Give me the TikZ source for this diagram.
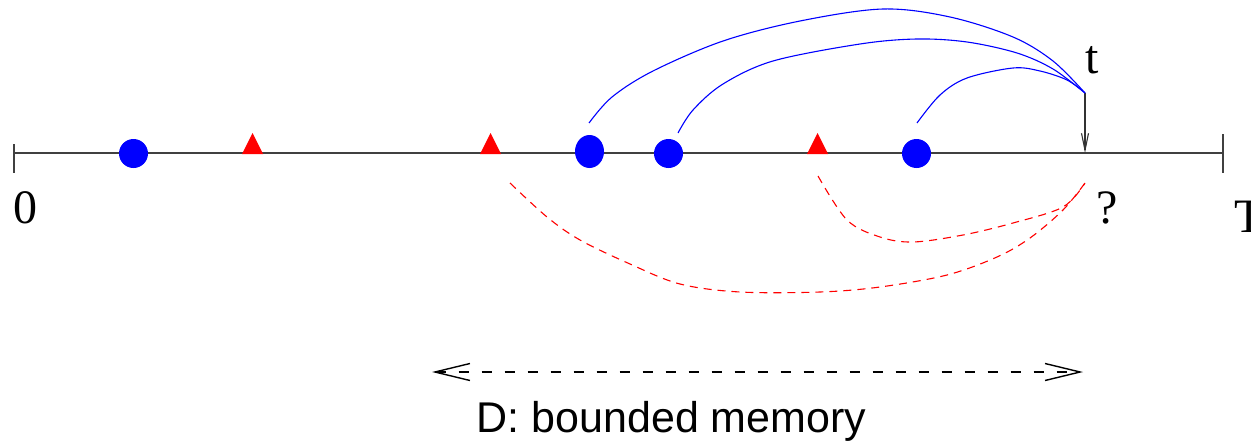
\documentclass[tikz,border=0pt]{standalone}
\usepackage{fontspec}
\setmainfont{Liberation Serif}
\newfontfamily\labsans{Liberation Sans}
\usetikzlibrary{arrows.meta,shapes.geometric}
\begin{document}
\begin{tikzpicture}[x=1pt,y=-1pt,
  axisline/.style={draw=black!75,line width=1.3pt},
  bluedot/.style={circle,fill=blue,inner sep=0pt,minimum size=29pt},
  blueoval/.style={ellipse,fill=blue,inner sep=0pt,minimum width=29pt,minimum height=33pt},
  redtri/.style={fill=red},
  bluecurve/.style={draw=blue,line width=1.1pt},
  redcurve/.style={draw=red,line width=1.1pt,dash pattern=on 8pt off 6pt},
  serlabel/.style={font=\fontsize{48}{52}\selectfont,inner sep=0pt},
]
\useasboundingbox (0,0) rectangle (1251,442);
% axis
\coordinate (A0) at (14,153);
\coordinate (A1) at (1223,153);
\draw[axisline] (A0) -- (A1);
\draw[axisline] (14,144) -- (14,173);
\draw[axisline] (1223,134) -- (1223,173);
% blue dots
\node[bluedot] (b1) at (133.5,153.5) {};
\node[blueoval] (b2) at (589.5,151.5) {};
\node[bluedot] (b3) at (668.5,153.5) {};
\node[bluedot] (b4) at (916.5,153.5) {};
% red triangles
\fill[redtri] (242,154) -- (252.5,133) -- (263,154) -- cycle;
\fill[redtri] (480,154) -- (490.5,133) -- (501,154) -- cycle;
\fill[redtri] (807,154) -- (817.5,133) -- (828,154) -- cycle;
% labels
\node[serlabel,anchor=base] (l0) at (25,223) {0};
\node[serlabel,anchor=base] (lq) at (1107,223) {?};
\node[serlabel,anchor=base west] (lT) at (1234,232) {T};
\node[serlabel,anchor=base] (lt) at (1092.5,73) {t};
% t arrow
\coordinate (tp) at (1085,93);
\coordinate (tq) at (1085,153);
\draw[black!80,line width=1.1pt,-{Straight Barb[length=17pt,width=7pt]}] (tp) -- (tq);
% blue curves
\coordinate (s1) at (589,123);
\coordinate (s2) at (678,133);
\coordinate (s3) at (917,123);
\draw[bluecurve] plot[smooth,tension=0.55] coordinates {(s1) (612,97) (653,71) (723,41) (800,21) (883,9) (950,17) (1013,37) (1053,61) (tp)};
\draw[bluecurve] plot[smooth,tension=0.55] coordinates {(s2) (693,110) (723,84) (773,61) (860,44) (917,39) (967,42) (1017,53) (1053,69) (tp)};
\draw[bluecurve] plot[smooth,tension=0.55] coordinates {(s3) (940,95) (967,78) (1013,68) (1040,71) (1067,80) (tp)};
% red curves
\coordinate (r1) at (510,183);
\coordinate (r2) at (818,176);
\coordinate (re) at (1085,183);
\draw[redcurve] plot[smooth,tension=0.55] coordinates {(r1) (547,217) (580,240) (630,264) (680,284) (740,292) (820,292) (880,287) (947,275) (997,257) (1030,238) (1063,210) (re)};
\draw[redcurve] plot[smooth,tension=0.55] coordinates {(r2) (847,220) (880,237) (913,242) (963,235) (1013,223) (1063,207) (re)};
% bounded memory arrow
\coordinate (dL) at (432,372);
\coordinate (dR) at (1083,372);
\draw[black,line width=1.4pt,dash pattern=on 10pt off 13pt,{Straight Barb[length=35pt,width=17pt]}-{Straight Barb[length=35pt,width=17pt]}] (dL) -- (dR);
\node[anchor=base,inner sep=0pt,font=\labsans\fontsize{43}{47}\selectfont] (dlab) at (671.5,432) {D: bounded memory};
\end{tikzpicture}
\end{document}
